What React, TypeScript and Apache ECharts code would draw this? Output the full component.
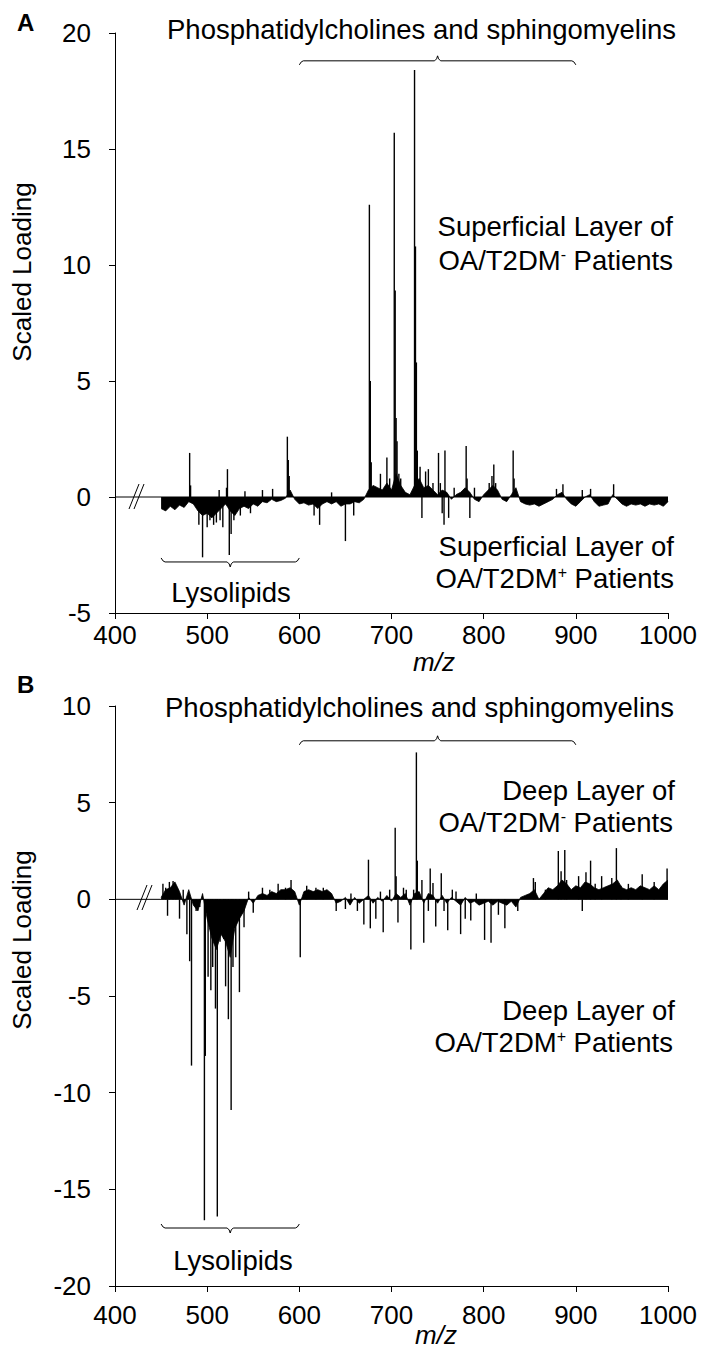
import React, { useEffect, useRef } from "react";
import * as echarts from "echarts";

// ---------- data ----------
const MZ_MIN = 400;
const MZ_MAX = 1000;
const MZ_INTERVAL = 100;

// baseline (dense noise envelope), sampled from m/z 450 every 5 units
const BASE_START = 450;
const BASE_STEP = 5;

const baseA = [
  -0.5, -0.6, -0.4, -0.55, -0.35, -0.45, -0.2, -0.3, -0.6, -0.8,
  -0.7, -0.9, -0.7, -0.5, -0.3, -0.6, -0.8, -0.5, -0.4, -0.5,
  -0.3, -0.4, -0.2, -0.25, -0.1, -0.2, -0.15, -0.05, 0.3, -0.1,
  -0.3, -0.25, -0.35, -0.3, -0.5, -0.3, -0.2, -0.3, -0.2, -0.4,
  -0.3, -0.3, -0.2, -0.25, -0.1, 0.3, 0.5, 0.4, 0.3, 0.6,
  0.3, 1.0, 0.5, 0.2, 0.1, 0.5, 0.8, 0.4, 0.5, 0.3,
  0.1, 0.3, 0.2, -0.1, 0.1, 0.2, 0.4, 0.2, -0.1, -0.2,
  0.1, 0.3, 0.5, 0.3, -0.1, -0.2, 0.1, 0.4, -0.2, -0.3,
  -0.35, -0.3, -0.4, -0.3, -0.2, -0.1, 0.1, 0.2, -0.1, -0.3,
  -0.4, -0.2, 0.0, 0.1, -0.2, -0.4, -0.35, -0.3, 0.1, -0.1,
  -0.3, -0.4, -0.3, -0.35, -0.3, -0.4, -0.3, -0.35, -0.3, -0.4,
  -0.2,
];

const baseB = [
  0.1, 0.5, 0.6, 0.9, 0.4, -0.3, 0.5, -0.3, -0.6, 0.3,
  -1.0, -2.0, -2.6, -1.8, -2.2, -3.0, -1.5, -1.0, -0.6, 0.1,
  -0.2, 0.2, 0.3, 0.2, 0.4, 0.3, 0.5, 0.5, 0.6, 0.4,
  -0.3, 0.4, 0.5, 0.4, 0.5, 0.4, 0.5, 0.3, -0.2, -0.1,
  0.1, -0.3, 0.1, -0.2, 0.0, 0.2, -0.2, 0.1, -0.1, 0.2,
  -0.1, 0.3, 0.1, 0.3, -0.3, 0.3, 0.4, -0.2, 0.3, 0.2,
  -0.2, 0.2, -0.2, 0.1, -0.1, -0.3, 0.1, -0.2, -0.1, -0.3,
  -0.2, -0.1, -0.3, -0.1, -0.2, -0.3, -0.1, -0.4, 0.1, 0.2,
  0.3, 0.5, 0.0, 0.3, 0.6, 0.5, 0.7, 1.0, 0.8, 0.5,
  0.7, 0.6, 0.9, 0.8, 0.6, 0.5, 0.6, 0.7, 0.8, 1.0,
  0.6, 0.5, 0.6, 0.5, 0.7, 0.6, 0.5, 0.7, 0.5, 0.8,
  1.0,
];

// individual peaks [m/z, scaled loading]
const peaksA = [
  [481, 1.9], [482, 0.5], [491, -1.2], [495, -2.6], [500, -1.3], [503, -1.0],
  [507, -1.2], [510, -1.1], [513, 0.3], [514, -1.0], [517, -1.3], [521, 0.4],
  [522, 1.2], [524, -2.5], [526, -1.6], [529, -1.0], [536, -0.8], [541, 0.25],
  [547, -0.7], [560, 0.3], [571, 0.35], [587, 2.6], [588, 1.6], [589, 0.9],
  [616, -0.8], [622, -1.2], [635, 0.2], [650, -1.9], [659, -0.8],
  [676, 12.6], [677, 5.0], [678, 1.5], [681, 0.4], [688, 1.0], [695, 1.7], [698, 0.8],
  [703, 15.7], [704, 8.9], [705, 3.4], [706, 2.4], [708, 1.0], [710, 0.8],
  [725, 18.4], [726, 10.8], [727, 5.8], [728, 2.0], [731, 1.3], [733, -0.9],
  [737, 1.1], [740, 1.2], [745, 0.6], [751, 1.9], [753, 0.6], [755, -0.7],
  [757, -1.2], [758, 2.0], [762, -0.9], [768, 0.4], [781, 2.2], [782, 0.8],
  [785, -0.9], [790, 0.4], [806, 0.6], [809, 0.9], [811, 1.4], [813, 0.6],
  [832, 2.0], [833, 0.8], [879, 0.35], [886, 0.55], [907, 0.3], [916, 0.35], [941, 0.55],
];

const peaksB = [
  [452, 0.8], [455, 0.6], [457, -0.85], [459, 0.9], [463, 0.95], [466, 0.4],
  [470, -1.0], [474, 0.5], [478, -1.8], [481, -3.2], [483, -8.6], [488, -0.6],
  [492, -0.4], [497, -16.6], [498, -8.1], [501, -4.0], [504, -4.7], [506, -3.5],
  [509, -5.65], [511, -16.4], [514, -2.2], [518, -2.05], [520, -4.5], [523, -6.2],
  [526, -10.9], [528, -3.5], [531, -3.0], [535, -4.8], [540, -1.45], [545, 0.4],
  [550, -0.7], [560, 0.6], [568, 0.5], [577, 0.8], [585, 0.6], [591, 1.0],
  [601, -3.0], [608, 0.7], [618, 0.6], [626, 0.6], [640, -0.6], [650, -0.5],
  [656, 0.3], [663, -0.6], [670, -1.3], [675, 2.05], [677, -1.5], [683, -1.0],
  [688, 0.4], [691, -1.7], [698, 0.5], [704, 3.7], [705, 1.2], [707, -1.2],
  [713, 0.6], [716, 0.5], [721, -2.6], [724, 0.5], [727, 7.6], [728, 2.0],
  [733, 1.0], [735, -2.25], [740, -0.6], [742, 1.6], [745, 0.85], [748, -1.4],
  [754, 1.35], [757, -0.6], [761, -1.6], [766, 0.5], [770, 0.4], [775, -1.8],
  [780, -1.0], [786, -1.1], [792, 0.3], [801, -2.1], [808, -2.25], [816, -0.8],
  [823, -1.5], [837, -0.6], [854, 1.1], [856, 0.9], [867, 0.5], [881, 2.5],
  [884, 1.45], [888, 2.55], [890, 1.0], [903, 1.2], [907, -0.6], [911, 1.4],
  [916, 2.0], [921, 0.8], [928, 1.2], [939, 1.1], [944, 2.65], [949, 0.7],
  [957, 0.8], [972, 1.3], [985, 0.9], [999, 1.6],
];

// braces [from m/z, to m/z, at loading, direction (1 = opens down, -1 = opens up)]
const bracesA = [[600, 900, 18.8, 1], [450, 600, -2.8, -1]];
const bracesB = [[600, 900, 8.2, 1], [450, 600, -17.0, -1]];

const yRangeA = { min: -5, max: 20, interval: 5 };
const yRangeB = { min: -20, max: 10, interval: 5 };

const topLabel = "Phosphatidylcholines and sphingomyelins";
const lysoLabel = "Lysolipids";
const yName = "Scaled Loading";
const xName = "m/z";

// ---------- styling ----------
const FONT = '"Liberation Sans", Arial, Helvetica, sans-serif';
const FS = 26; // tick labels
const FT = 27.5; // annotation texts
const INK = "#000";

function toXY(arr: number[]) {
  return arr.map((v, i) => [BASE_START + i * BASE_STEP, v]);
}

function braceRender(params: any, api: any) {
  const a = api.coord([api.value(0), api.value(2)]);
  const b = api.coord([api.value(1), api.value(2)]);
  const dir = api.value(3);
  const y = a[1];
  const m = (a[0] + b[0]) / 2;
  return {
    type: "polyline",
    shape: {
      points: [
        [a[0], y + dir * 4],
        [a[0] + 2, y + dir * 1],
        [a[0] + 4, y],
        [m - 3, y],
        [m - 1, y - dir * 2],
        [m, y - dir * 5],
        [m + 1, y - dir * 2],
        [m + 3, y],
        [b[0] - 4, y],
        [b[0] - 2, y + dir * 1],
        [b[0], y + dir * 4],
      ],
    },
    style: { stroke: INK, fill: null, lineWidth: 1 },
  };
}

function txt(text: string, x: number, y: number, align: string, extra: any = {}) {
  return {
    type: "text",
    x,
    y,
    z: 100,
    style: {
      text,
      fontFamily: FONT,
      fontSize: FT,
      fill: INK,
      align,
      verticalAlign: "middle",
      ...extra,
    },
  };
}

const supRich = {
  sup: { fontFamily: FONT, fontSize: 16, fill: INK, verticalAlign: "top" },
};

function supTxt(sign: string, x: number, y: number) {
  return {
    type: "text",
    x,
    y,
    z: 100,
    style: {
      text: "OA/T2DM{sup|" + sign + "} Patients",
      rich: supRich,
      fontFamily: FONT,
      fontSize: FT,
      fill: INK,
      align: "right",
      verticalAlign: "middle",
    },
  };
}

function breakMarks(x: number, y: number) {
  return [
    { type: "line", z: 100, shape: { x1: x, y1: y + 12, x2: x + 10, y2: y - 13 }, style: { stroke: INK, lineWidth: 1 } },
    { type: "line", z: 100, shape: { x1: x + 5, y1: y + 12, x2: x + 15, y2: y - 13 }, style: { stroke: INK, lineWidth: 1 } },
  ];
}

export default function App() {
  const ref = useRef<HTMLDivElement>(null);

  useEffect(() => {
    document.body.style.margin = "0";
    if (!ref.current) return;
    const chart = echarts.init(ref.current, undefined, { renderer: "svg" });

    const axisCommon = {
      axisLine: { show: true, onZero: false, lineStyle: { color: INK, width: 1 } },
      axisTick: { show: true, length: 6, lineStyle: { color: INK, width: 1 } },
      splitLine: { show: false },
    };

    const xAxes = [0, 1].map((i) => ({
      type: "value",
      gridIndex: i,
      min: MZ_MIN,
      max: MZ_MAX,
      interval: MZ_INTERVAL,
      ...axisCommon,
      axisLabel: {
        fontFamily: FONT,
        fontSize: FS,
        color: INK,
        margin: i === 0 ? 9 : 16,
        formatter: (v: number) => String(v),
      },
    }));

    const yAxes = [yRangeA, yRangeB].map((r, i) => ({
      type: "value",
      gridIndex: i,
      min: r.min,
      max: r.max,
      interval: r.interval,
      ...axisCommon,
      axisLabel: { fontFamily: FONT, fontSize: FS, color: INK, margin: 24, formatter: (v: number) => String(v) },
    }));

    const panelSeries = (i: number, base: number[], peaks: number[][], braces: number[][]) => [
      {
        type: "line",
        xAxisIndex: i,
        yAxisIndex: i,
        data: [[MZ_MIN, 0], [MZ_MAX, 0]],
        symbol: "none",
        lineStyle: { color: INK, width: 1 },
        z: 1,
        silent: true,
      },
      {
        type: "line",
        xAxisIndex: i,
        yAxisIndex: i,
        data: toXY(base),
        symbol: "none",
        lineStyle: { color: INK, width: 0.8 },
        areaStyle: { color: INK, opacity: 1, origin: 0 },
        z: 2,
        silent: true,
      },
      {
        type: "bar",
        xAxisIndex: i,
        yAxisIndex: i,
        data: peaks,
        barWidth: 1.4,
        itemStyle: { color: INK },
        z: 3,
        silent: true,
      },
      {
        type: "custom",
        xAxisIndex: i,
        yAxisIndex: i,
        data: braces,
        renderItem: braceRender,
        encode: { x: [0, 1], y: 2 },
        clip: false,
        z: 4,
        silent: true,
      },
    ];

    const graphic = [
      // panel A
      txt("A", 17, 22, "left", { fontWeight: "bold", fontSize: 24 }),
      txt(topLabel, 167, 29, "left"),
      txt("Superficial Layer of", 673, 226, "right"),
      supTxt("-", 673, 260),
      txt("Superficial Layer of", 674, 546, "right"),
      supTxt("+", 674, 578),
      txt(lysoLabel, 231, 592, "center"),
      txt(xName, 434, 662, "center", { fontStyle: "italic", fontSize: 26 }),
      { ...txt(yName, 22, 272, "center", { fontSize: 26 }), rotation: Math.PI / 2 },
      ...breakMarks(129, 497),
      // panel B
      txt("B", 17, 684, "left", { fontWeight: "bold", fontSize: 24 }),
      txt(topLabel, 165, 707, "left"),
      txt("Deep Layer of", 675, 790, "right"),
      supTxt("-", 673, 822),
      txt("Deep Layer of", 675, 1010, "right"),
      supTxt("+", 673, 1042),
      txt(lysoLabel, 233, 1260, "center"),
      txt(xName, 436, 1335, "center", { fontStyle: "italic", fontSize: 26 }),
      { ...txt(yName, 22, 940, "center", { fontSize: 26 }), rotation: Math.PI / 2 },
      ...breakMarks(137, 898),
    ];

    chart.setOption({
      animation: false,
      backgroundColor: "#fff",
      grid: [
        { left: 115, top: 33, width: 553, height: 580, containLabel: false },
        { left: 115, top: 706, width: 553, height: 580, containLabel: false },
      ],
      xAxis: xAxes,
      yAxis: yAxes,
      series: [
        ...panelSeries(0, baseA, peaksA, bracesA),
        ...panelSeries(1, baseB, peaksB, bracesB),
      ],
      graphic,
    } as any);

    return () => chart.dispose();
  }, []);

  return <div ref={ref} style={{ width: 703, height: 1352 }} />;
}
